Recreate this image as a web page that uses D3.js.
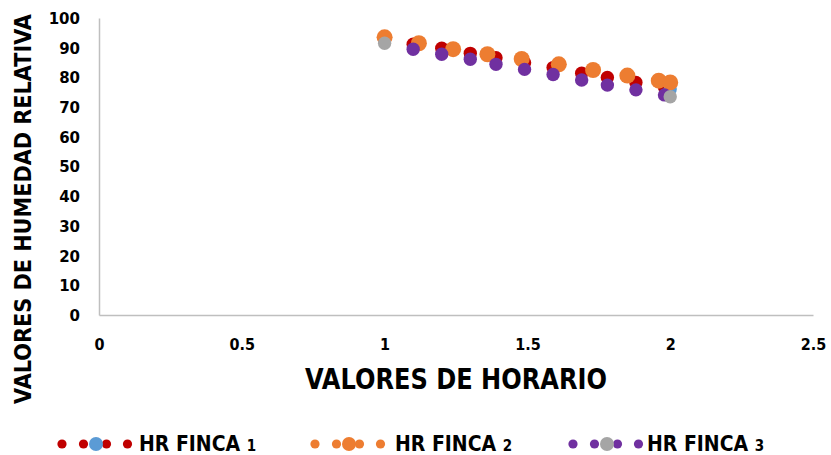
<!DOCTYPE html>
<html>
<head>
<meta charset="utf-8">
<script src="https://cdn.jsdelivr.net/npm/d3@7"></script>
<style>
  html, body { margin: 0; padding: 0; background: #fff; }
  svg { display: block; }
  .tick-y { font-family: "DejaVu Sans", sans-serif; font-weight: bold; font-size: 15px; fill: #000; }
  .tick-x { font-family: "DejaVu Sans Condensed", "DejaVu Sans", sans-serif; font-weight: bold; font-size: 16px; fill: #000; }
  .title-x { font-family: "DejaVu Sans Condensed", "DejaVu Sans", sans-serif; font-weight: bold; font-size: 29px; fill: #000; }
  .title-y { font-family: "DejaVu Sans", sans-serif; font-weight: bold; font-size: 23px; fill: #000; }
  .legend { font-family: "DejaVu Sans Condensed", "DejaVu Sans", sans-serif; font-weight: bold; font-size: 21px; fill: #000; }
</style>
</head>
<body>
<svg id="chart" width="831" height="455"></svg>
<script>
// Horario (x) and humedad relativa (y) for each finca
const finca1X = [1.00, 1.10, 1.20, 1.30, 1.39, 1.49, 1.59, 1.69, 1.78, 1.88, 1.98, 2.00];
const finca1Y = [92.6, 91.2, 89.8, 88.1, 86.6, 84.9, 83.3, 81.4, 80.0, 78.3, 76.8, 76.1];
const finca2X = [1.00, 1.12, 1.24, 1.36, 1.48, 1.61, 1.73, 1.85, 1.96, 2.00];
const finca2Y = [93.5, 91.5, 89.5, 87.8, 86.2, 84.4, 82.5, 80.6, 78.9, 78.3];
const finca3X = [1.00, 1.10, 1.20, 1.30, 1.39, 1.49, 1.59, 1.69, 1.78, 1.88, 1.98, 2.00];
const finca3Y = [91.5, 89.5, 87.8, 86.1, 84.4, 82.7, 81.0, 79.1, 77.4, 75.8, 74.1, 73.5];

const seriesNames = ["HR FINCA", "HR FINCA", "HR FINCA"];
const seriesNums = ["1", "2", "3"];
const xTicks = [0, 0.5, 1, 1.5, 2, 2.5];
const yTicks = [0, 10, 20, 30, 40, 50, 60, 70, 80, 90, 100];

const svg = d3.select("#chart");
const x = d3.scaleLinear().domain([0, 2.5]).range([99, 813]);
const y = d3.scaleLinear().domain([0, 100]).range([315, 18]);

// axis lines
const gx = svg.append("g").attr("transform", `translate(0,${y(0)})`)
  .call(d3.axisBottom(x).tickValues(xTicks).tickSize(0).tickFormat(d3.format("")));
gx.select(".domain").attr("stroke", "#BFBFBF").attr("stroke-width", 1.5);
gx.selectAll("text").attr("class", "tick-x").attr("dy", null).attr("y", 35).attr("fill", null);

const gy = svg.append("g").attr("transform", `translate(${x(0)},0)`)
  .call(d3.axisLeft(y).tickValues(yTicks).tickSize(0));
gy.select(".domain").attr("stroke", "#BFBFBF").attr("stroke-width", 1.5);
gy.selectAll("text").attr("class", "tick-y").attr("x", -19).attr("dy", "0.36em").attr("fill", null);

// axis titles
svg.append("text").attr("class", "title-x")
  .attr("x", 456).attr("y", 389).attr("text-anchor", "middle")
  .attr("textLength", 302).attr("lengthAdjust", "spacingAndGlyphs")
  .text("VALORES DE HORARIO");

// y title: heavy type squeezed along its run to fit the plot height
const yTitle = svg.append("text").attr("class", "title-y")
  .attr("text-anchor", "middle")
  .text("VALORES DE HUMEDAD RELATIVA");
const natural = yTitle.node().getComputedTextLength();
const squeeze = 390 / natural;
yTitle.attr("transform", `translate(31,209) rotate(-90) scale(${squeeze},1)`);

// series definitions: base colour, marker radius, highlighted point colours
const series = [
  { xs: finca1X, ys: finca1Y, color: "#C00000", r: 6.7, special: { 11: "#5B9BD5" } },
  { xs: finca2X, ys: finca2Y, color: "#ED7D31", r: 8, special: {} },
  { xs: finca3X, ys: finca3Y, color: "#7030A0", r: 6.7, special: { 0: "#A5A5A5", 11: "#A5A5A5" } }
];

series.forEach(s => {
  const pts = s.xs.map((v, i) => ({ x: v, y: s.ys[i], c: s.special[i] || s.color }));
  svg.append("g").selectAll("circle").data(pts).join("circle")
    .attr("cx", d => x(d.x)).attr("cy", d => y(d.y))
    .attr("r", s.r).attr("fill", d => d.c);
});

// legend
const legendItems = [
  { x0: 62, color: "#C00000", mid: "#5B9BD5", textX: 139 },
  { x0: 315, color: "#ED7D31", mid: "#ED7D31", textX: 395 },
  { x0: 573, color: "#7030A0", mid: "#A5A5A5", textX: 647 }
];
const ly = 444;
legendItems.forEach((it, i) => {
  const g = svg.append("g");
  [0, 21.5, 44.5, 65.5].forEach(dx => {
    g.append("circle").attr("cx", it.x0 + dx).attr("cy", ly).attr("r", 4.6).attr("fill", it.color);
  });
  g.append("circle").attr("cx", it.x0 + 34).attr("cy", ly).attr("r", 7).attr("fill", it.mid);
  const t = g.append("text").attr("class", "legend").attr("x", it.textX).attr("y", ly + 7);
  t.append("tspan").text(seriesNames[i] + " ");
  t.append("tspan").attr("font-size", "15px").text(seriesNums[i]);
});
</script>
</body>
</html>
